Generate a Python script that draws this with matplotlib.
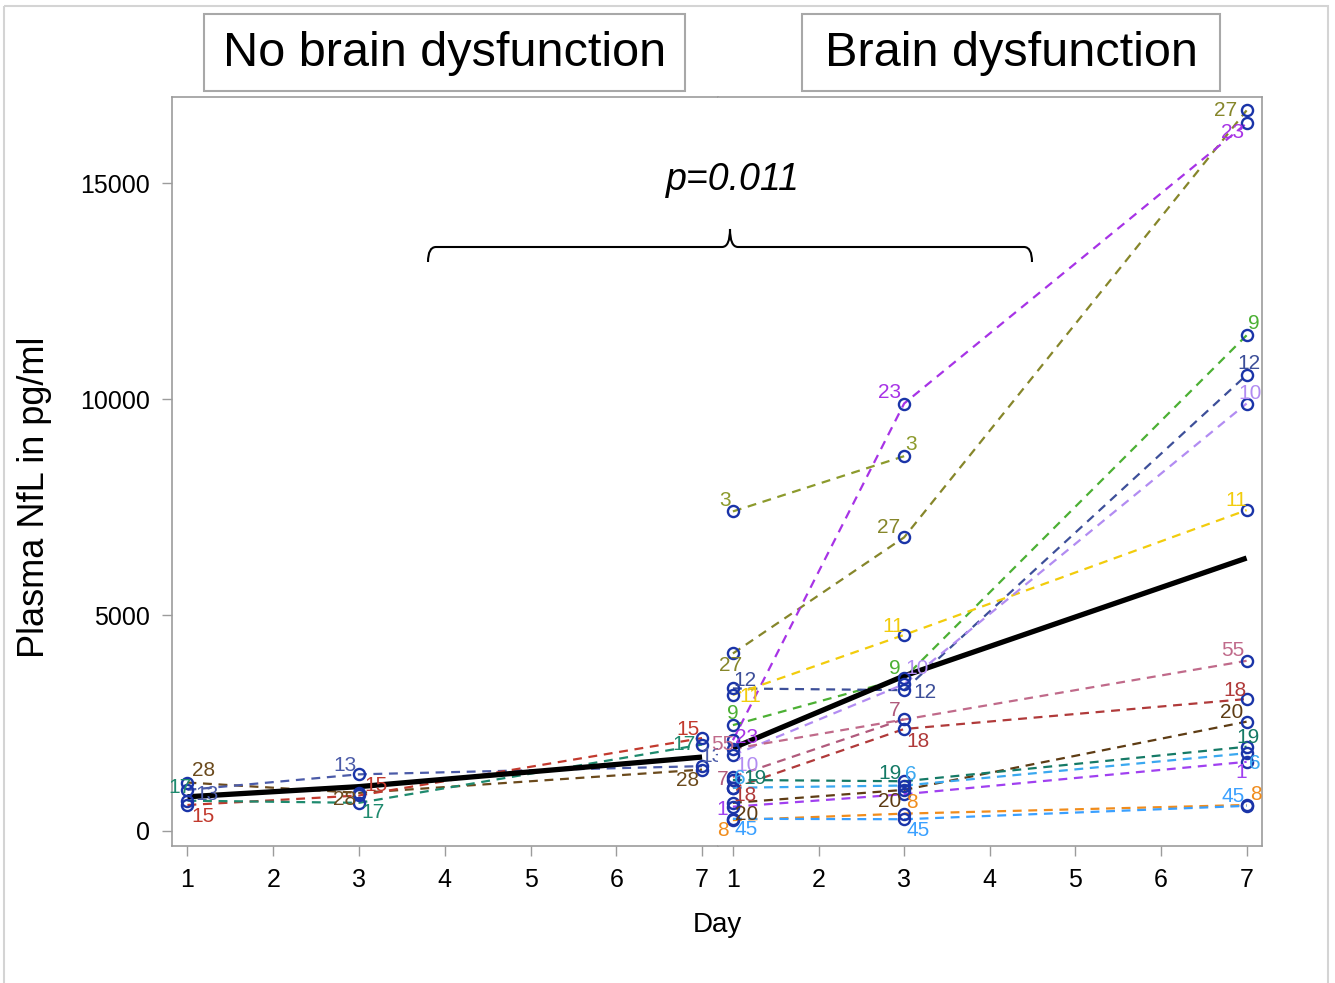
import matplotlib.pyplot as plt
from matplotlib.patches import Rectangle, PathPatch
from matplotlib.path import Path

plt.rcParams['font.family'] = ['Liberation Sans', 'DejaVu Sans']

days = [1, 3, 7]

# no brain dysfunction group
no_ids = ['28', '13', '15', '17']
no_vals = [[1120, 880, 1420],
           [950, 1310, 1500],
           [600, 820, 2150],
           [700, 650, 2000]]
no_mean = [790, 1025, 1710]

# brain dysfunction group
bd_ids = ['3', '27', '23', '9', '12', '11', '10', '55', '7', '18', '20', '19', '6', '1', '8', '45']
bd_vals = [[7400, 8680, None],
           [4110, 6800, 16690],
           [2100, 9900, 16390],
           [2450, 3540, 11480],
           [3300, 3260, 10560],
           [3150, 4540, 7430],
           [1750, 3400, 9900],
           [1900, None, 3940],
           [1250, 2590, None],
           [990, 2360, 3055],
           [650, 950, 2530],
           [1180, 1150, 1950],
           [1000, 1050, 1800],
           [560, 850, 1600],
           [250, 400, 600],
           [280, 270, 580]]
bd_mean = [1920, 3590, 6320]

colors = {'28': '#6b4a1c', '13': '#4b5ba8', '15': '#c23a2e', '17': '#1e8a6e',
          '3': '#8c9a2c', '27': '#86862a', '23': '#a733e6', '9': '#4cb034',
          '12': '#3d4f99', '11': '#f2cc0c', '10': '#b28cf2', '55': '#c06a8a',
          '7': '#b05a7c', '18': '#b03a3a', '20': '#5e3c14', '19': '#157a66',
          '6': '#3aa8f0', '1': '#a040f0', '8': '#f08c1c', '45': '#3aa0ff'}

# label offsets in pixels (dx, dy up), None = no label
no_offs = [[(16, 12), (-14, -7), (-14, -11)],
           [(20, -5), (-14, 9), (10, 10)],
           [(16, -12), (17, 10), (-14, 9)],
           [(-7, 13), (14, -10), (-18, 0)]]
bd_offs = [[(-8, 11), (7, 12), None],
           [(-2, -12), (-16, 10), (-21, 0)],
           [(14, 3), (-15, 11), (-14, -9)],
           [(0, 12), (-9, 10), (7, 12)],
           [(12, 8), (21, -2), (2, 12)],
           [(17, -2), (-11, 8), (-10, 10)],
           [(14, -10), (13, 16), (3, 10)],
           [(-10, 4), None, (-14, 10)],
           [(-10, -3), (-9, 9), None],
           [(12, -7), (14, -12), (-12, 9)],
           [(14, -12), (-15, -12), (-15, 9)],
           [(22, 1), (-14, 8), (1, 9)],
           [(7, 9), (7, 11), (8, -10)],
           [(-11, -3), None, (-5, -11)],
           [(-10, -10), (8, 11), (9, 10)],
           [(13, -11), (14, -11), (-13, 9)]]

W, H = 1335, 983
fig = plt.figure(figsize=(W / 100, H / 100), dpi=100)
ax_l = fig.add_axes([172 / W, 1 - 846 / H, (717.5 - 172) / W, (846 - 97) / H])
ax_r = fig.add_axes([717.5 / W, 1 - 846 / H, (1262 - 717.5) / W, (846 - 97) / H], sharey=ax_l)

spine_col = '#9c9c9c'


def draw_group(ax, ids, vals, offs, mean):
    for pid, v, off in zip(ids, vals, offs):
        xs = [d for d, y in zip(days, v) if y is not None]
        ys = [y for y in v if y is not None]
        ax.plot(xs, ys, ls=(0, (4, 3)), lw=1.6, color=colors[pid], zorder=2)
        ax.plot(xs, ys, 'o', mfc='none', mec='#1a34a8', ms=8, mew=1.7, zorder=5)
        for d, y, o in zip(days, v, off):
            if y is None or o is None:
                continue
            ax.annotate(pid, (d, y), xytext=o, textcoords='offset pixels',
                        ha='center', va='center', fontsize=15,
                        color=colors[pid], zorder=6)
    ax.plot(days, mean, color='black', lw=3.8, zorder=4, solid_capstyle='butt')
    ax.set_xlim(0.82, 7.18)
    ax.set_xticks(range(1, 8))
    for s in ax.spines.values():
        s.set_color(spine_col)
        s.set_linewidth(1.2)
    ax.tick_params(direction='out', length=7, width=1, color=spine_col,
                   labelsize=18, pad=9)


draw_group(ax_l, no_ids, no_vals, no_offs, no_mean)
draw_group(ax_r, bd_ids, bd_vals, bd_offs, bd_mean)

ax_l.set_ylim(-350, 17000)
ax_l.set_yticks([0, 5000, 10000, 15000])
ax_l.spines['right'].set_visible(False)
ax_r.spines['left'].set_visible(False)
ax_r.tick_params(left=False, labelleft=False)

fig.text(35 / W, 1 - 497 / H, 'Plasma NfL in pg/ml', rotation=90,
         ha='center', va='center', fontsize=26)
fig.text(717 / W, 1 - 925 / H, 'Day', ha='center', va='center', fontsize=20)

# overlay for frame, header boxes, bracket
ov = fig.add_axes([0, 0, 1, 1], zorder=10)
ov.set_xlim(0, W)
ov.set_ylim(H, 0)
ov.axis('off')
ov.patch.set_alpha(0)

ov.add_patch(Rectangle((4, 6), 1324, 990, fill=False, ec='#d4d4d4', lw=1.5, clip_on=False))
ov.add_patch(Rectangle((204, 14), 481, 77, fill=False, ec='#a8a8a8', lw=1.5))
ov.text(445, 53, 'No brain dysfunction', ha='center', va='center', fontsize=35)
ov.add_patch(Rectangle((802, 14), 418, 77, fill=False, ec='#a8a8a8', lw=1.5))
ov.text(1011, 53, 'Brain dysfunction', ha='center', va='center', fontsize=35)

ov.text(733, 180, 'p=0.011', style='italic', ha='center', va='center', fontsize=27)

verts = [(428, 262), (428, 247), (436, 247), (722, 247), (730, 247), (730, 229),
         (730, 247), (738, 247), (1024, 247), (1032, 247), (1032, 262)]
codes = [Path.MOVETO, Path.CURVE3, Path.CURVE3, Path.LINETO, Path.CURVE3, Path.CURVE3,
         Path.CURVE3, Path.CURVE3, Path.LINETO, Path.CURVE3, Path.CURVE3]
ov.add_patch(PathPatch(Path(verts, codes), fill=False, ec='black', lw=1.5))

fig.savefig('out.png', dpi=100)
